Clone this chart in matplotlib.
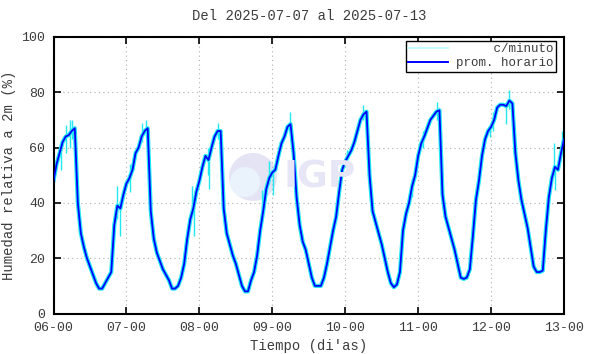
import numpy as np
import matplotlib
matplotlib.use("Agg")
import matplotlib.pyplot as plt
from matplotlib.patches import Ellipse
from matplotlib.lines import Line2D

# hourly mean relative humidity (%), 06-00 .. 13-00
h06 = [48, 54, 58, 62, 64, 64.5, 66, 67, 40, 29, 24, 20, 17, 14, 11, 9, 9, 11, 13, 15, 32, 39, 38, 43]
h07 = [47, 49, 52, 58, 60, 64, 66, 67, 37, 27, 22, 19, 16, 14, 12, 9, 9, 10, 13, 18, 27, 34, 38, 44]
h08 = [48, 53, 57, 55.5, 60, 64, 66, 66, 38, 29, 25, 21, 18, 14, 10, 8, 8, 12, 15, 21, 30, 37, 45, 49]
h09 = [51, 52, 57, 61.5, 64, 67.5, 68.5, 58, 42, 32, 26, 23, 18, 13, 10, 10, 10, 13, 18, 24, 30, 35, 44, 52]
h10 = [55, 57, 59, 62, 66, 70, 72, 73, 50, 37, 33, 29, 25, 20, 15, 11, 9.5, 10.5, 15, 30, 36, 40, 46, 50]
h11 = [57, 61.5, 64, 67, 70, 71.5, 73, 73.5, 43, 35, 31, 27, 23, 18, 13, 12.5, 13, 16, 28, 41, 48, 57, 63, 66]
h12 = [67.5, 70, 74.5, 75.5, 75.5, 75, 77, 76, 58, 48, 41, 36, 31, 24, 17, 15, 15, 15.5, 30, 42, 49, 53, 52, 58]
h13 = [63]

# per-minute excursions (day, low, high)
spike_t = [6.10, 6.17, 6.22, 6.26, 6.87, 6.91, 7.05, 7.22, 7.27, 7.90, 7.92,
           8.12, 8.13, 8.26, 8.86, 8.96, 9.01, 9.24, 10.02, 10.25, 10.91,
           11.07, 11.26, 11.99, 12.03, 12.21, 12.25, 12.86, 12.88, 12.97]
spike_lo = [52, 58, 60, 63, 34, 28, 44, 62, 64, 36, 28,
            50, 45, 63, 34, 47, 43, 66, 52, 70, 42,
            60, 70, 64, 66, 68.7, 74, 50, 44.6, 58]
spike_hi = [62, 68, 70, 70, 46, 40, 54, 69, 70, 46, 38,
            60, 55, 69, 44.6, 55, 52, 73, 59, 75.4, 49,
            66, 76.5, 68, 73, 76, 80.8, 61.5, 52, 66]

day_ticks = [6, 7, 8, 9, 10, 11, 12, 13]
y_ticks = [0, 20, 40, 60, 80, 100]

hum = np.array(h06 + h07 + h08 + h09 + h10 + h11 + h12 + h13)
t = 6 + np.arange(len(hum)) / 24.0

mono = "Liberation Mono"
txt = "#3c3c3c"

fig = plt.figure(figsize=(5.9, 3.54), dpi=100)
ax = fig.add_axes([0.0907, 0.1144, 0.8653, 0.7811])

# faint IGP watermark
ax.add_patch(Ellipse((253 / 590, 1 - 177 / 354), 48 / 590, 48 / 354,
                     transform=fig.transFigure, color="#e4e4f5", lw=0, zorder=0))
ax.add_patch(Ellipse((245 / 590, 1 - 182 / 354), 30 / 590, 30 / 354,
                     transform=fig.transFigure, color="#eaf3fc", lw=0, zorder=0))
fig.text(320 / 590, 1 - 177 / 354, "IGP", ha="center", va="center",
         fontsize=27, fontweight="bold", color="#e6e6f6", family="DejaVu Sans", zorder=0)

ax.vlines(spike_t, spike_lo, spike_hi, color="#22e8f0", lw=1.0, zorder=2)
ax.plot(t, hum, color="#22e8f0", lw=3.0, zorder=2)
ax.plot(t, hum, color="#0000ff", lw=1.3, zorder=3)

ax.set_xlim(6, 13)
ax.set_ylim(0, 100)
ax.set_xticks(day_ticks)
ax.set_xticklabels(["%02d-00" % d for d in day_ticks])
ax.set_yticks(y_ticks)
ax.grid(True, color="#b0b0b0", ls=(0, (1, 3)), lw=0.8)
ax.set_axisbelow(True)
ax.tick_params(direction="in", top=True, right=True, length=5, width=1.2,
               labelsize=9.5, labelcolor=txt, pad=6)
for lab in ax.get_xticklabels() + ax.get_yticklabels():
    lab.set_family(mono)
for s in ax.spines.values():
    s.set_linewidth(1.5)

ax.set_title("Del 2025-07-07 al 2025-07-13", family=mono, fontsize=10, color=txt, pad=12)
ax.set_xlabel("Tiempo (di'as)", family=mono, fontsize=10, color=txt, labelpad=4)
ax.set_ylabel("Humedad relativa a 2m (%)", family=mono, fontsize=10, color=txt, labelpad=4)

handles = [Line2D([], [], color="#b8fbff", lw=1.2), Line2D([], [], color="#0000ff", lw=1.4)]
leg = ax.legend(handles, ["     c/minuto", "prom. horario"], loc="upper right",
                bbox_to_anchor=(0.984, 0.986), borderaxespad=0, fancybox=False,
                framealpha=1, edgecolor="black", handlelength=3.2, handletextpad=0.6,
                borderpad=0.2, labelspacing=0.15, prop={"family": mono, "size": 9})
leg.get_frame().set_linewidth(1.0)
for tx in leg.get_texts():
    tx.set_color(txt)

fig.savefig("out.png", dpi=100)
